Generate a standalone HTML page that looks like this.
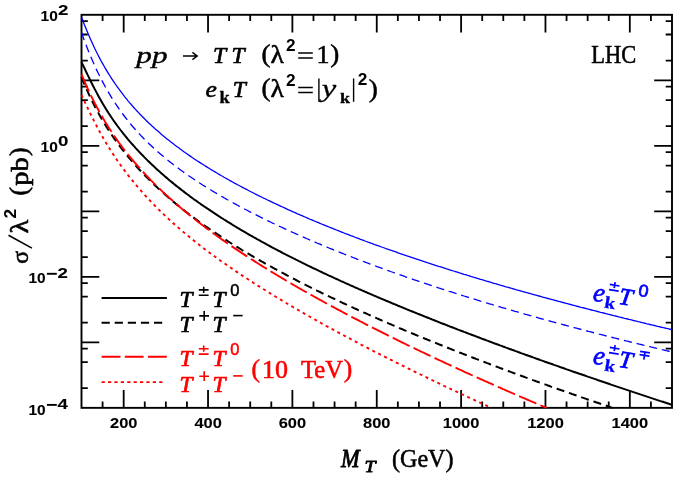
<!DOCTYPE html>
<html><head><meta charset="utf-8"><title>plot</title>
<style>html,body{margin:0;padding:0;background:#fff}body{width:677px;height:478px;overflow:hidden;font-family:"Liberation Serif",serif}</style></head>
<body>
<svg width="677" height="478" viewBox="0 0 677 478" style="display:block;will-change:transform" font-family="'Liberation Serif', serif">
<rect width="677" height="478" fill="#fff"/>
<rect x="81.50" y="14.80" width="590.50" height="393.05" fill="none" stroke="#000" stroke-width="1.9"/>
<path d="M102.59 407.85 V401.55 M102.59 14.80 V21.10 M123.68 407.85 V390.05 M123.68 14.80 V32.60 M144.77 407.85 V401.55 M144.77 14.80 V21.10 M165.86 407.85 V401.55 M165.86 14.80 V21.10 M186.95 407.85 V401.55 M186.95 14.80 V21.10 M208.04 407.85 V390.05 M208.04 14.80 V32.60 M229.12 407.85 V401.55 M229.12 14.80 V21.10 M250.21 407.85 V401.55 M250.21 14.80 V21.10 M271.30 407.85 V401.55 M271.30 14.80 V21.10 M292.39 407.85 V390.05 M292.39 14.80 V32.60 M313.48 407.85 V401.55 M313.48 14.80 V21.10 M334.57 407.85 V401.55 M334.57 14.80 V21.10 M355.66 407.85 V401.55 M355.66 14.80 V21.10 M376.75 407.85 V390.05 M376.75 14.80 V32.60 M397.84 407.85 V401.55 M397.84 14.80 V21.10 M418.93 407.85 V401.55 M418.93 14.80 V21.10 M440.02 407.85 V401.55 M440.02 14.80 V21.10 M461.11 407.85 V390.05 M461.11 14.80 V32.60 M482.20 407.85 V401.55 M482.20 14.80 V21.10 M503.29 407.85 V401.55 M503.29 14.80 V21.10 M524.38 407.85 V401.55 M524.38 14.80 V21.10 M545.46 407.85 V390.05 M545.46 14.80 V32.60 M566.55 407.85 V401.55 M566.55 14.80 V21.10 M587.64 407.85 V401.55 M587.64 14.80 V21.10 M608.73 407.85 V401.55 M608.73 14.80 V21.10 M629.82 407.85 V390.05 M629.82 14.80 V32.60 M650.91 407.85 V401.55 M650.91 14.80 V21.10 M81.50 21.15 H87.80 M672.00 21.15 H665.70 M81.50 34.52 H87.80 M672.00 34.52 H665.70 M81.50 60.59 H87.80 M672.00 60.59 H665.70 M81.50 80.31 H99.30 M672.00 80.31 H654.20 M81.50 86.66 H87.80 M672.00 86.66 H665.70 M81.50 100.03 H87.80 M672.00 100.03 H665.70 M81.50 126.10 H87.80 M672.00 126.10 H665.70 M81.50 145.82 H99.30 M672.00 145.82 H654.20 M81.50 152.17 H87.80 M672.00 152.17 H665.70 M81.50 165.54 H87.80 M672.00 165.54 H665.70 M81.50 191.61 H87.80 M672.00 191.61 H665.70 M81.50 211.33 H99.30 M672.00 211.33 H654.20 M81.50 217.67 H87.80 M672.00 217.67 H665.70 M81.50 231.04 H87.80 M672.00 231.04 H665.70 M81.50 257.11 H87.80 M672.00 257.11 H665.70 M81.50 276.83 H99.30 M672.00 276.83 H654.20 M81.50 283.18 H87.80 M672.00 283.18 H665.70 M81.50 296.55 H87.80 M672.00 296.55 H665.70 M81.50 322.62 H87.80 M672.00 322.62 H665.70 M81.50 342.34 H99.30 M672.00 342.34 H654.20 M81.50 348.69 H87.80 M672.00 348.69 H665.70 M81.50 362.06 H87.80 M672.00 362.06 H665.70 M81.50 388.13 H87.80 M672.00 388.13 H665.70" fill="none" stroke="#000" stroke-width="1.8"/>
<g fill="none" stroke-linejoin="round">
<path d="M81.5 16.9 L83.0 20.9 L84.5 24.9 L86.0 28.6 L87.5 32.3 L89.0 35.8 L90.5 39.3 L92.0 42.6 L93.5 45.8 L95.0 49.0 L96.5 52.0 L98.0 55.0 L99.5 57.9 L101.0 60.7 L102.5 63.4 L104.0 66.0 L105.5 68.6 L107.0 71.1 L108.5 73.6 L110.0 76.0 L111.5 78.3 L113.0 80.6 L114.5 82.8 L116.0 85.0 L117.5 87.1 L119.0 89.2 L120.5 91.2 L122.0 93.2 L123.5 95.2 L125.0 97.1 L126.5 98.9 L128.0 100.8 L129.5 102.6 L131.0 104.3 L132.5 106.0 L134.0 107.7 L135.5 109.4 L137.0 111.0 L138.5 112.6 L140.0 114.2 L141.5 115.8 L143.0 117.3 L144.5 118.8 L146.0 120.3 L147.5 121.7 L149.0 123.2 L150.5 124.6 L152.0 126.0 L153.5 127.3 L155.0 128.7 L156.5 130.0 L158.0 131.3 L159.5 132.6 L161.0 133.9 L162.5 135.2 L164.0 136.4 L165.5 137.7 L167.0 138.9 L168.5 140.1 L170.0 141.3 L171.5 142.4 L173.0 143.6 L174.5 144.8 L176.0 145.9 L177.5 147.0 L179.0 148.1 L180.5 149.2 L182.0 150.3 L183.5 151.4 L185.0 152.5 L186.5 153.5 L188.0 154.6 L189.5 155.6 L191.0 156.6 L192.5 157.7 L194.0 158.7 L195.5 159.7 L197.0 160.7 L198.5 161.6 L200.0 162.6 L201.5 163.6 L203.0 164.5 L204.5 165.5 L206.0 166.4 L207.5 167.4 L209.0 168.3 L210.5 169.2 L212.0 170.1 L213.5 171.0 L215.0 171.9 L216.5 172.8 L218.0 173.7 L219.5 174.6 L221.0 175.5 L222.5 176.3 L224.0 177.2 L225.5 178.0 L227.0 178.9 L228.5 179.7 L230.0 180.6 L231.5 181.4 L233.0 182.2 L234.5 183.1 L236.0 183.9 L237.5 184.7 L239.0 185.5 L240.5 186.3 L242.0 187.1 L243.5 187.9 L245.0 188.7 L246.5 189.4 L248.0 190.2 L249.5 191.0 L251.0 191.8 L252.5 192.5 L254.0 193.3 L255.5 194.1 L257.0 194.8 L258.5 195.6 L260.0 196.3 L261.5 197.0 L263.0 197.8 L264.5 198.5 L266.0 199.2 L267.5 200.0 L269.0 200.7 L270.5 201.4 L272.0 202.1 L273.5 202.8 L275.0 203.5 L276.5 204.2 L278.0 204.9 L279.5 205.6 L281.0 206.3 L282.5 207.0 L284.0 207.7 L285.5 208.4 L287.0 209.1 L288.5 209.8 L290.0 210.4 L291.5 211.1 L293.0 211.8 L294.5 212.4 L296.0 213.1 L297.5 213.8 L299.0 214.4 L300.5 215.1 L302.0 215.7 L303.5 216.4 L305.0 217.0 L306.5 217.7 L308.0 218.3 L309.5 219.0 L311.0 219.6 L312.5 220.2 L314.0 220.9 L315.5 221.5 L317.0 222.1 L318.5 222.7 L320.0 223.4 L321.5 224.0 L323.0 224.6 L324.5 225.2 L326.0 225.8 L327.5 226.4 L329.0 227.0 L330.5 227.6 L332.0 228.2 L333.5 228.8 L335.0 229.4 L336.5 230.0 L338.0 230.6 L339.5 231.2 L341.0 231.8 L342.5 232.4 L344.0 233.0 L345.5 233.6 L347.0 234.1 L348.5 234.7 L350.0 235.3 L351.5 235.9 L353.0 236.4 L354.5 237.0 L356.0 237.6 L357.5 238.1 L359.0 238.7 L360.5 239.3 L362.0 239.8 L363.5 240.4 L365.0 241.0 L366.5 241.5 L368.0 242.1 L369.5 242.6 L371.0 243.2 L372.5 243.7 L374.0 244.3 L375.5 244.8 L377.0 245.3 L378.5 245.9 L380.0 246.4 L381.5 247.0 L383.0 247.5 L384.5 248.0 L386.0 248.6 L387.5 249.1 L389.0 249.6 L390.5 250.2 L392.0 250.7 L393.5 251.2 L395.0 251.7 L396.5 252.2 L398.0 252.8 L399.5 253.3 L401.0 253.8 L402.5 254.3 L404.0 254.8 L405.5 255.3 L407.0 255.9 L408.5 256.4 L410.0 256.9 L411.5 257.4 L413.0 257.9 L414.5 258.4 L416.0 258.9 L417.5 259.4 L419.0 259.9 L420.5 260.4 L422.0 260.9 L423.5 261.4 L425.0 261.9 L426.5 262.4 L428.0 262.9 L429.5 263.3 L431.0 263.8 L432.5 264.3 L434.0 264.8 L435.5 265.3 L437.0 265.8 L438.5 266.3 L440.0 266.7 L441.5 267.2 L443.0 267.7 L444.5 268.2 L446.0 268.7 L447.5 269.1 L449.0 269.6 L450.5 270.1 L452.0 270.5 L453.5 271.0 L455.0 271.5 L456.5 271.9 L458.0 272.4 L459.5 272.9 L461.0 273.3 L462.5 273.8 L464.0 274.3 L465.5 274.7 L467.0 275.2 L468.5 275.6 L470.0 276.1 L471.5 276.6 L473.0 277.0 L474.5 277.5 L476.0 277.9 L477.5 278.4 L479.0 278.8 L480.5 279.3 L482.0 279.7 L483.5 280.2 L485.0 280.6 L486.5 281.1 L488.0 281.5 L489.5 281.9 L491.0 282.4 L492.5 282.8 L494.0 283.3 L495.5 283.7 L497.0 284.1 L498.5 284.6 L500.0 285.0 L501.5 285.5 L503.0 285.9 L504.5 286.3 L506.0 286.8 L507.5 287.2 L509.0 287.6 L510.5 288.0 L512.0 288.5 L513.5 288.9 L515.0 289.3 L516.5 289.8 L518.0 290.2 L519.5 290.6 L521.0 291.0 L522.5 291.5 L524.0 291.9 L525.5 292.3 L527.0 292.7 L528.5 293.1 L530.0 293.5 L531.5 294.0 L533.0 294.4 L534.5 294.8 L536.0 295.2 L537.5 295.6 L539.0 296.0 L540.5 296.4 L542.0 296.9 L543.5 297.3 L545.0 297.7 L546.5 298.1 L548.0 298.5 L549.5 298.9 L551.0 299.3 L552.5 299.7 L554.0 300.1 L555.5 300.5 L557.0 300.9 L558.5 301.3 L560.0 301.7 L561.5 302.1 L563.0 302.5 L564.5 302.9 L566.0 303.3 L567.5 303.7 L569.0 304.1 L570.5 304.5 L572.0 304.9 L573.5 305.3 L575.0 305.7 L576.5 306.1 L578.0 306.5 L579.5 306.9 L581.0 307.3 L582.5 307.6 L584.0 308.0 L585.5 308.4 L587.0 308.8 L588.5 309.2 L590.0 309.6 L591.5 310.0 L593.0 310.4 L594.5 310.7 L596.0 311.1 L597.5 311.5 L599.0 311.9 L600.5 312.3 L602.0 312.6 L603.5 313.0 L605.0 313.4 L606.5 313.8 L608.0 314.2 L609.5 314.5 L611.0 314.9 L612.5 315.3 L614.0 315.7 L615.5 316.0 L617.0 316.4 L618.5 316.8 L620.0 317.2 L621.5 317.5 L623.0 317.9 L624.5 318.3 L626.0 318.6 L627.5 319.0 L629.0 319.4 L630.5 319.7 L632.0 320.1 L633.5 320.5 L635.0 320.8 L636.5 321.2 L638.0 321.6 L639.5 321.9 L641.0 322.3 L642.5 322.7 L644.0 323.0 L645.5 323.4 L647.0 323.8 L648.5 324.1 L650.0 324.5 L651.5 324.8 L653.0 325.2 L654.5 325.5 L656.0 325.9 L657.5 326.3 L659.0 326.6 L660.5 327.0 L662.0 327.3 L663.5 327.7 L665.0 328.0 L666.5 328.4 L668.0 328.7 L669.5 329.1 L671.0 329.5 L672.0 329.7" stroke="#0000ff" stroke-width="1.3"/>
<path d="M81.5 32.5 L83.0 36.8 L84.5 40.9 L86.0 44.8 L87.5 48.7 L89.0 52.4 L90.5 56.1 L92.0 59.6 L93.5 63.0 L95.0 66.4 L96.5 69.6 L98.0 72.7 L99.5 75.8 L101.0 78.7 L102.5 81.6 L104.0 84.4 L105.5 87.2 L107.0 89.8 L108.5 92.4 L110.0 94.9 L111.5 97.4 L113.0 99.8 L114.5 102.1 L116.0 104.4 L117.5 106.6 L119.0 108.8 L120.5 110.9 L122.0 113.0 L123.5 115.0 L125.0 117.0 L126.5 118.9 L128.0 120.8 L129.5 122.7 L131.0 124.5 L132.5 126.3 L134.0 128.0 L135.5 129.7 L137.0 131.4 L138.5 133.0 L140.0 134.6 L141.5 136.2 L143.0 137.7 L144.5 139.3 L146.0 140.8 L147.5 142.2 L149.0 143.7 L150.5 145.1 L152.0 146.5 L153.5 147.9 L155.0 149.3 L156.5 150.6 L158.0 151.9 L159.5 153.2 L161.0 154.5 L162.5 155.8 L164.0 157.1 L165.5 158.3 L167.0 159.5 L168.5 160.7 L170.0 161.9 L171.5 163.1 L173.0 164.3 L174.5 165.4 L176.0 166.5 L177.5 167.7 L179.0 168.8 L180.5 169.9 L182.0 171.0 L183.5 172.1 L185.0 173.1 L186.5 174.2 L188.0 175.2 L189.5 176.3 L191.0 177.3 L192.5 178.3 L194.0 179.3 L195.5 180.3 L197.0 181.3 L198.5 182.3 L200.0 183.2 L201.5 184.2 L203.0 185.2 L204.5 186.1 L206.0 187.0 L207.5 188.0 L209.0 188.9 L210.5 189.8 L212.0 190.7 L213.5 191.6 L215.0 192.5 L216.5 193.4 L218.0 194.3 L219.5 195.2 L221.0 196.0 L222.5 196.9 L224.0 197.8 L225.5 198.6 L227.0 199.5 L228.5 200.3 L230.0 201.1 L231.5 202.0 L233.0 202.8 L234.5 203.6 L236.0 204.4 L237.5 205.3 L239.0 206.1 L240.5 206.9 L242.0 207.7 L243.5 208.4 L245.0 209.2 L246.5 210.0 L248.0 210.8 L249.5 211.6 L251.0 212.3 L252.5 213.1 L254.0 213.9 L255.5 214.6 L257.0 215.4 L258.5 216.1 L260.0 216.9 L261.5 217.6 L263.0 218.4 L264.5 219.1 L266.0 219.8 L267.5 220.6 L269.0 221.3 L270.5 222.0 L272.0 222.8 L273.5 223.5 L275.0 224.2 L276.5 224.9 L278.0 225.6 L279.5 226.3 L281.0 227.0 L282.5 227.7 L284.0 228.4 L285.5 229.1 L287.0 229.8 L288.5 230.5 L290.0 231.1 L291.5 231.8 L293.0 232.5 L294.5 233.2 L296.0 233.8 L297.5 234.5 L299.0 235.2 L300.5 235.8 L302.0 236.5 L303.5 237.2 L305.0 237.8 L306.5 238.5 L308.0 239.1 L309.5 239.8 L311.0 240.4 L312.5 241.1 L314.0 241.7 L315.5 242.3 L317.0 243.0 L318.5 243.6 L320.0 244.2 L321.5 244.9 L323.0 245.5 L324.5 246.1 L326.0 246.7 L327.5 247.3 L329.0 248.0 L330.5 248.6 L332.0 249.2 L333.5 249.8 L335.0 250.4 L336.5 251.0 L338.0 251.6 L339.5 252.2 L341.0 252.8 L342.5 253.4 L344.0 254.0 L345.5 254.6 L347.0 255.2 L348.5 255.8 L350.0 256.4 L351.5 256.9 L353.0 257.5 L354.5 258.1 L356.0 258.7 L357.5 259.3 L359.0 259.8 L360.5 260.4 L362.0 261.0 L363.5 261.5 L365.0 262.1 L366.5 262.7 L368.0 263.2 L369.5 263.8 L371.0 264.4 L372.5 264.9 L374.0 265.5 L375.5 266.0 L377.0 266.6 L378.5 267.1 L380.0 267.7 L381.5 268.2 L383.0 268.8 L384.5 269.3 L386.0 269.9 L387.5 270.4 L389.0 270.9 L390.5 271.5 L392.0 272.0 L393.5 272.5 L395.0 273.1 L396.5 273.6 L398.0 274.1 L399.5 274.7 L401.0 275.2 L402.5 275.7 L404.0 276.2 L405.5 276.8 L407.0 277.3 L408.5 277.8 L410.0 278.3 L411.5 278.8 L413.0 279.3 L414.5 279.9 L416.0 280.4 L417.5 280.9 L419.0 281.4 L420.5 281.9 L422.0 282.4 L423.5 282.9 L425.0 283.4 L426.5 283.9 L428.0 284.4 L429.5 284.9 L431.0 285.4 L432.5 285.9 L434.0 286.4 L435.5 286.9 L437.0 287.4 L438.5 287.9 L440.0 288.3 L441.5 288.8 L443.0 289.3 L444.5 289.8 L446.0 290.3 L447.5 290.8 L449.0 291.3 L450.5 291.7 L452.0 292.2 L453.5 292.7 L455.0 293.2 L456.5 293.6 L458.0 294.1 L459.5 294.6 L461.0 295.1 L462.5 295.5 L464.0 296.0 L465.5 296.5 L467.0 296.9 L468.5 297.4 L470.0 297.9 L471.5 298.3 L473.0 298.8 L474.5 299.2 L476.0 299.7 L477.5 300.2 L479.0 300.6 L480.5 301.1 L482.0 301.5 L483.5 302.0 L485.0 302.4 L486.5 302.9 L488.0 303.3 L489.5 303.8 L491.0 304.2 L492.5 304.7 L494.0 305.1 L495.5 305.6 L497.0 306.0 L498.5 306.5 L500.0 306.9 L501.5 307.4 L503.0 307.8 L504.5 308.2 L506.0 308.7 L507.5 309.1 L509.0 309.5 L510.5 310.0 L512.0 310.4 L513.5 310.8 L515.0 311.3 L516.5 311.7 L518.0 312.1 L519.5 312.6 L521.0 313.0 L522.5 313.4 L524.0 313.8 L525.5 314.3 L527.0 314.7 L528.5 315.1 L530.0 315.5 L531.5 316.0 L533.0 316.4 L534.5 316.8 L536.0 317.2 L537.5 317.6 L539.0 318.1 L540.5 318.5 L542.0 318.9 L543.5 319.3 L545.0 319.7 L546.5 320.1 L548.0 320.5 L549.5 321.0 L551.0 321.4 L552.5 321.8 L554.0 322.2 L555.5 322.6 L557.0 323.0 L558.5 323.4 L560.0 323.8 L561.5 324.2 L563.0 324.6 L564.5 325.0 L566.0 325.4 L567.5 325.8 L569.0 326.2 L570.5 326.6 L572.0 327.0 L573.5 327.4 L575.0 327.8 L576.5 328.2 L578.0 328.6 L579.5 329.0 L581.0 329.4 L582.5 329.8 L584.0 330.2 L585.5 330.6 L587.0 331.0 L588.5 331.4 L590.0 331.7 L591.5 332.1 L593.0 332.5 L594.5 332.9 L596.0 333.3 L597.5 333.7 L599.0 334.1 L600.5 334.4 L602.0 334.8 L603.5 335.2 L605.0 335.6 L606.5 336.0 L608.0 336.4 L609.5 336.7 L611.0 337.1 L612.5 337.5 L614.0 337.9 L615.5 338.2 L617.0 338.6 L618.5 339.0 L620.0 339.4 L621.5 339.7 L623.0 340.1 L624.5 340.5 L626.0 340.9 L627.5 341.2 L629.0 341.6 L630.5 342.0 L632.0 342.3 L633.5 342.7 L635.0 343.1 L636.5 343.4 L638.0 343.8 L639.5 344.2 L641.0 344.5 L642.5 344.9 L644.0 345.3 L645.5 345.6 L647.0 346.0 L648.5 346.4 L650.0 346.7 L651.5 347.1 L653.0 347.4 L654.5 347.8 L656.0 348.2 L657.5 348.5 L659.0 348.9 L660.5 349.2 L662.0 349.6 L663.5 349.9 L665.0 350.3 L666.5 350.7 L668.0 351.0 L669.5 351.4 L671.0 351.7 L672.0 351.9" stroke="#0000ff" stroke-width="1.3" stroke-dasharray="8.1 4.9"/>
<path d="M81.5 62.1 L83.0 65.2 L84.5 68.3 L86.0 71.5 L87.5 74.6 L89.0 77.6 L90.5 80.7 L92.0 83.7 L93.5 86.7 L95.0 89.6 L96.5 92.4 L98.0 95.2 L99.5 97.9 L101.0 100.6 L102.5 103.2 L104.0 105.7 L105.5 108.2 L107.0 110.6 L108.5 113.0 L110.0 115.3 L111.5 117.5 L113.0 119.7 L114.5 121.8 L116.0 123.9 L117.5 126.0 L119.0 128.0 L120.5 130.0 L122.0 131.9 L123.5 133.8 L125.0 135.7 L126.5 137.5 L128.0 139.3 L129.5 141.1 L131.0 142.8 L132.5 144.5 L134.0 146.2 L135.5 147.9 L137.0 149.5 L138.5 151.1 L140.0 152.7 L141.5 154.3 L143.0 155.8 L144.5 157.4 L146.0 158.9 L147.5 160.4 L149.0 161.8 L150.5 163.3 L152.0 164.7 L153.5 166.1 L155.0 167.5 L156.5 168.9 L158.0 170.3 L159.5 171.6 L161.0 172.9 L162.5 174.3 L164.0 175.6 L165.5 176.9 L167.0 178.1 L168.5 179.4 L170.0 180.7 L171.5 181.9 L173.0 183.1 L174.5 184.4 L176.0 185.6 L177.5 186.8 L179.0 187.9 L180.5 189.1 L182.0 190.3 L183.5 191.4 L185.0 192.6 L186.5 193.7 L188.0 194.8 L189.5 196.0 L191.0 197.1 L192.5 198.2 L194.0 199.3 L195.5 200.3 L197.0 201.4 L198.5 202.5 L200.0 203.5 L201.5 204.6 L203.0 205.6 L204.5 206.7 L206.0 207.7 L207.5 208.7 L209.0 209.7 L210.5 210.7 L212.0 211.7 L213.5 212.7 L215.0 213.7 L216.5 214.7 L218.0 215.7 L219.5 216.6 L221.0 217.6 L222.5 218.5 L224.0 219.5 L225.5 220.4 L227.0 221.4 L228.5 222.3 L230.0 223.2 L231.5 224.2 L233.0 225.1 L234.5 226.0 L236.0 226.9 L237.5 227.8 L239.0 228.7 L240.5 229.6 L242.0 230.5 L243.5 231.3 L245.0 232.2 L246.5 233.1 L248.0 234.0 L249.5 234.8 L251.0 235.7 L252.5 236.5 L254.0 237.4 L255.5 238.2 L257.0 239.1 L258.5 239.9 L260.0 240.7 L261.5 241.6 L263.0 242.4 L264.5 243.2 L266.0 244.0 L267.5 244.9 L269.0 245.7 L270.5 246.5 L272.0 247.3 L273.5 248.1 L275.0 248.9 L276.5 249.7 L278.0 250.5 L279.5 251.2 L281.0 252.0 L282.5 252.8 L284.0 253.6 L285.5 254.4 L287.0 255.1 L288.5 255.9 L290.0 256.7 L291.5 257.4 L293.0 258.2 L294.5 258.9 L296.0 259.7 L297.5 260.4 L299.0 261.2 L300.5 261.9 L302.0 262.7 L303.5 263.4 L305.0 264.1 L306.5 264.9 L308.0 265.6 L309.5 266.3 L311.0 267.0 L312.5 267.8 L314.0 268.5 L315.5 269.2 L317.0 269.9 L318.5 270.6 L320.0 271.3 L321.5 272.0 L323.0 272.8 L324.5 273.5 L326.0 274.2 L327.5 274.9 L329.0 275.6 L330.5 276.2 L332.0 276.9 L333.5 277.6 L335.0 278.3 L336.5 279.0 L338.0 279.7 L339.5 280.4 L341.0 281.1 L342.5 281.7 L344.0 282.4 L345.5 283.1 L347.0 283.8 L348.5 284.4 L350.0 285.1 L351.5 285.8 L353.0 286.4 L354.5 287.1 L356.0 287.8 L357.5 288.4 L359.0 289.1 L360.5 289.7 L362.0 290.4 L363.5 291.0 L365.0 291.7 L366.5 292.3 L368.0 293.0 L369.5 293.6 L371.0 294.3 L372.5 294.9 L374.0 295.6 L375.5 296.2 L377.0 296.9 L378.5 297.5 L380.0 298.1 L381.5 298.8 L383.0 299.4 L384.5 300.0 L386.0 300.7 L387.5 301.3 L389.0 301.9 L390.5 302.5 L392.0 303.2 L393.5 303.8 L395.0 304.4 L396.5 305.0 L398.0 305.7 L399.5 306.3 L401.0 306.9 L402.5 307.5 L404.0 308.1 L405.5 308.7 L407.0 309.4 L408.5 310.0 L410.0 310.6 L411.5 311.2 L413.0 311.8 L414.5 312.4 L416.0 313.0 L417.5 313.6 L419.0 314.2 L420.5 314.8 L422.0 315.4 L423.5 316.0 L425.0 316.6 L426.5 317.2 L428.0 317.8 L429.5 318.4 L431.0 319.0 L432.5 319.6 L434.0 320.2 L435.5 320.8 L437.0 321.4 L438.5 322.0 L440.0 322.6 L441.5 323.2 L443.0 323.7 L444.5 324.3 L446.0 324.9 L447.5 325.5 L449.0 326.1 L450.5 326.7 L452.0 327.2 L453.5 327.8 L455.0 328.4 L456.5 329.0 L458.0 329.6 L459.5 330.1 L461.0 330.7 L462.5 331.3 L464.0 331.9 L465.5 332.4 L467.0 333.0 L468.5 333.6 L470.0 334.1 L471.5 334.7 L473.0 335.3 L474.5 335.8 L476.0 336.4 L477.5 337.0 L479.0 337.5 L480.5 338.1 L482.0 338.7 L483.5 339.2 L485.0 339.8 L486.5 340.4 L488.0 340.9 L489.5 341.5 L491.0 342.0 L492.5 342.6 L494.0 343.2 L495.5 343.7 L497.0 344.3 L498.5 344.8 L500.0 345.4 L501.5 345.9 L503.0 346.5 L504.5 347.0 L506.0 347.6 L507.5 348.1 L509.0 348.7 L510.5 349.2 L512.0 349.8 L513.5 350.3 L515.0 350.9 L516.5 351.4 L518.0 352.0 L519.5 352.5 L521.0 353.1 L522.5 353.6 L524.0 354.1 L525.5 354.7 L527.0 355.2 L528.5 355.8 L530.0 356.3 L531.5 356.8 L533.0 357.4 L534.5 357.9 L536.0 358.5 L537.5 359.0 L539.0 359.5 L540.5 360.1 L542.0 360.6 L543.5 361.1 L545.0 361.7 L546.5 362.2 L548.0 362.7 L549.5 363.3 L551.0 363.8 L552.5 364.3 L554.0 364.9 L555.5 365.4 L557.0 365.9 L558.5 366.4 L560.0 367.0 L561.5 367.5 L563.0 368.0 L564.5 368.5 L566.0 369.1 L567.5 369.6 L569.0 370.1 L570.5 370.6 L572.0 371.2 L573.5 371.7 L575.0 372.2 L576.5 372.7 L578.0 373.2 L579.5 373.8 L581.0 374.3 L582.5 374.8 L584.0 375.3 L585.5 375.8 L587.0 376.4 L588.5 376.9 L590.0 377.4 L591.5 377.9 L593.0 378.4 L594.5 378.9 L596.0 379.4 L597.5 380.0 L599.0 380.5 L600.5 381.0 L602.0 381.5 L603.5 382.0 L605.0 382.5 L606.5 383.0 L608.0 383.5 L609.5 384.0 L611.0 384.6 L612.5 385.1 L614.0 385.6 L615.5 386.1 L617.0 386.6 L618.5 387.1 L620.0 387.6 L621.5 388.1 L623.0 388.6 L624.5 389.1 L626.0 389.6 L627.5 390.1 L629.0 390.6 L630.5 391.1 L632.0 391.6 L633.5 392.1 L635.0 392.6 L636.5 393.1 L638.0 393.6 L639.5 394.1 L641.0 394.6 L642.5 395.1 L644.0 395.6 L645.5 396.1 L647.0 396.6 L648.5 397.1 L650.0 397.6 L651.5 398.1 L653.0 398.6 L654.5 399.1 L656.0 399.6 L657.5 400.1 L659.0 400.6 L660.5 401.1 L662.0 401.5 L663.5 402.0 L665.0 402.5 L666.5 403.0 L668.0 403.5 L669.5 404.0 L671.0 404.5 L672.0 404.8" stroke="#000" stroke-width="2.0"/>
<path d="M81.5 77.1 L83.0 80.8 L84.5 84.4 L86.0 87.9 L87.5 91.2 L89.0 94.5 L90.5 97.7 L92.0 100.8 L93.5 103.8 L95.0 106.7 L96.5 109.5 L98.0 112.3 L99.5 115.0 L101.0 117.7 L102.5 120.2 L104.0 122.7 L105.5 125.2 L107.0 127.6 L108.5 130.0 L110.0 132.3 L111.5 134.5 L113.0 136.7 L114.5 138.9 L116.0 141.0 L117.5 143.1 L119.0 145.1 L120.5 147.1 L122.0 149.1 L123.5 151.0 L125.0 152.9 L126.5 154.8 L128.0 156.6 L129.5 158.4 L131.0 160.2 L132.5 161.9 L134.0 163.7 L135.5 165.4 L137.0 167.0 L138.5 168.7 L140.0 170.3 L141.5 171.9 L143.0 173.5 L144.5 175.0 L146.0 176.6 L147.5 178.1 L149.0 179.6 L150.5 181.1 L152.0 182.5 L153.5 184.0 L155.0 185.4 L156.5 186.8 L158.0 188.2 L159.5 189.6 L161.0 190.9 L162.5 192.3 L164.0 193.6 L165.5 195.0 L167.0 196.3 L168.5 197.6 L170.0 198.8 L171.5 200.1 L173.0 201.4 L174.5 202.6 L176.0 203.9 L177.5 205.1 L179.0 206.3 L180.5 207.5 L182.0 208.7 L183.5 209.9 L185.0 211.1 L186.5 212.2 L188.0 213.4 L189.5 214.5 L191.0 215.7 L192.5 216.8 L194.0 217.9 L195.5 219.0 L197.0 220.1 L198.5 221.2 L200.0 222.3 L201.5 223.4 L203.0 224.4 L204.5 225.5 L206.0 226.6 L207.5 227.6 L209.0 228.6 L210.5 229.7 L212.0 230.7 L213.5 231.7 L215.0 232.7 L216.5 233.7 L218.0 234.7 L219.5 235.7 L221.0 236.7 L222.5 237.7 L224.0 238.7 L225.5 239.6 L227.0 240.6 L228.5 241.6 L230.0 242.5 L231.5 243.5 L233.0 244.4 L234.5 245.3 L236.0 246.3 L237.5 247.2 L239.0 248.1 L240.5 249.0 L242.0 250.0 L243.5 250.9 L245.0 251.8 L246.5 252.7 L248.0 253.5 L249.5 254.4 L251.0 255.3 L252.5 256.2 L254.0 257.1 L255.5 257.9 L257.0 258.8 L258.5 259.7 L260.0 260.5 L261.5 261.4 L263.0 262.2 L264.5 263.1 L266.0 263.9 L267.5 264.8 L269.0 265.6 L270.5 266.4 L272.0 267.2 L273.5 268.1 L275.0 268.9 L276.5 269.7 L278.0 270.5 L279.5 271.3 L281.0 272.1 L282.5 272.9 L284.0 273.7 L285.5 274.5 L287.0 275.3 L288.5 276.1 L290.0 276.9 L291.5 277.7 L293.0 278.5 L294.5 279.2 L296.0 280.0 L297.5 280.8 L299.0 281.6 L300.5 282.3 L302.0 283.1 L303.5 283.9 L305.0 284.6 L306.5 285.4 L308.0 286.1 L309.5 286.9 L311.0 287.6 L312.5 288.4 L314.0 289.1 L315.5 289.8 L317.0 290.6 L318.5 291.3 L320.0 292.0 L321.5 292.8 L323.0 293.5 L324.5 294.2 L326.0 295.0 L327.5 295.7 L329.0 296.4 L330.5 297.1 L332.0 297.8 L333.5 298.5 L335.0 299.2 L336.5 300.0 L338.0 300.7 L339.5 301.4 L341.0 302.1 L342.5 302.8 L344.0 303.5 L345.5 304.2 L347.0 304.9 L348.5 305.6 L350.0 306.2 L351.5 306.9 L353.0 307.6 L354.5 308.3 L356.0 309.0 L357.5 309.7 L359.0 310.3 L360.5 311.0 L362.0 311.7 L363.5 312.4 L365.0 313.0 L366.5 313.7 L368.0 314.4 L369.5 315.0 L371.0 315.7 L372.5 316.4 L374.0 317.0 L375.5 317.7 L377.0 318.4 L378.5 319.0 L380.0 319.7 L381.5 320.3 L383.0 321.0 L384.5 321.6 L386.0 322.3 L387.5 322.9 L389.0 323.6 L390.5 324.2 L392.0 324.9 L393.5 325.5 L395.0 326.1 L396.5 326.8 L398.0 327.4 L399.5 328.1 L401.0 328.7 L402.5 329.3 L404.0 330.0 L405.5 330.6 L407.0 331.2 L408.5 331.8 L410.0 332.5 L411.5 333.1 L413.0 333.7 L414.5 334.3 L416.0 335.0 L417.5 335.6 L419.0 336.2 L420.5 336.8 L422.0 337.4 L423.5 338.0 L425.0 338.7 L426.5 339.3 L428.0 339.9 L429.5 340.5 L431.0 341.1 L432.5 341.7 L434.0 342.3 L435.5 342.9 L437.0 343.5 L438.5 344.1 L440.0 344.7 L441.5 345.3 L443.0 345.9 L444.5 346.5 L446.0 347.1 L447.5 347.7 L449.0 348.3 L450.5 348.9 L452.0 349.5 L453.5 350.1 L455.0 350.7 L456.5 351.3 L458.0 351.9 L459.5 352.5 L461.0 353.0 L462.5 353.6 L464.0 354.2 L465.5 354.8 L467.0 355.4 L468.5 356.0 L470.0 356.5 L471.5 357.1 L473.0 357.7 L474.5 358.3 L476.0 358.9 L477.5 359.4 L479.0 360.0 L480.5 360.6 L482.0 361.2 L483.5 361.7 L485.0 362.3 L486.5 362.9 L488.0 363.4 L489.5 364.0 L491.0 364.6 L492.5 365.1 L494.0 365.7 L495.5 366.3 L497.0 366.8 L498.5 367.4 L500.0 368.0 L501.5 368.5 L503.0 369.1 L504.5 369.6 L506.0 370.2 L507.5 370.7 L509.0 371.3 L510.5 371.9 L512.0 372.4 L513.5 373.0 L515.0 373.5 L516.5 374.1 L518.0 374.6 L519.5 375.2 L521.0 375.7 L522.5 376.3 L524.0 376.8 L525.5 377.4 L527.0 377.9 L528.5 378.5 L530.0 379.0 L531.5 379.5 L533.0 380.1 L534.5 380.6 L536.0 381.2 L537.5 381.7 L539.0 382.3 L540.5 382.8 L542.0 383.3 L543.5 383.9 L545.0 384.4 L546.5 384.9 L548.0 385.5 L549.5 386.0 L551.0 386.6 L552.5 387.1 L554.0 387.6 L555.5 388.2 L557.0 388.7 L558.5 389.2 L560.0 389.7 L561.5 390.3 L563.0 390.8 L564.5 391.3 L566.0 391.9 L567.5 392.4 L569.0 392.9 L570.5 393.4 L572.0 394.0 L573.5 394.5 L575.0 395.0 L576.5 395.5 L578.0 396.0 L579.5 396.6 L581.0 397.1 L582.5 397.6 L584.0 398.1 L585.5 398.6 L587.0 399.2 L588.5 399.7 L590.0 400.2 L591.5 400.7 L593.0 401.2 L594.5 401.7 L596.0 402.3 L597.5 402.8 L599.0 403.3 L600.5 403.8 L602.0 404.3 L603.5 404.8 L605.0 405.3 L606.5 405.8 L608.0 406.3 L609.5 406.8 L611.0 407.4 L612.5 407.9" stroke="#000" stroke-width="2.0" stroke-dasharray="8.1 4.9"/>
<path d="M81.5 74.1 L83.0 77.8 L84.5 81.4 L86.0 84.8 L87.5 88.2 L89.0 91.5 L90.5 94.6 L92.0 97.7 L93.5 100.7 L95.0 103.7 L96.5 106.5 L98.0 109.3 L99.5 112.1 L101.0 114.7 L102.5 117.3 L104.0 119.9 L105.5 122.4 L107.0 124.8 L108.5 127.2 L110.0 129.5 L111.5 131.8 L113.0 134.1 L114.5 136.3 L116.0 138.5 L117.5 140.6 L119.0 142.7 L120.5 144.7 L122.0 146.7 L123.5 148.7 L125.0 150.7 L126.5 152.6 L128.0 154.5 L129.5 156.3 L131.0 158.1 L132.5 159.9 L134.0 161.7 L135.5 163.5 L137.0 165.2 L138.5 166.9 L140.0 168.6 L141.5 170.2 L143.0 171.9 L144.5 173.5 L146.0 175.1 L147.5 176.7 L149.0 178.2 L150.5 179.8 L152.0 181.3 L153.5 182.8 L155.0 184.3 L156.5 185.8 L158.0 187.3 L159.5 188.7 L161.0 190.1 L162.5 191.6 L164.0 193.0 L165.5 194.4 L167.0 195.7 L168.5 197.1 L170.0 198.5 L171.5 199.8 L173.0 201.1 L174.5 202.4 L176.0 203.8 L177.5 205.0 L179.0 206.3 L180.5 207.6 L182.0 208.9 L183.5 210.1 L185.0 211.4 L186.5 212.6 L188.0 213.8 L189.5 215.1 L191.0 216.3 L192.5 217.5 L194.0 218.7 L195.5 219.8 L197.0 221.0 L198.5 222.2 L200.0 223.3 L201.5 224.5 L203.0 225.6 L204.5 226.8 L206.0 227.9 L207.5 229.0 L209.0 230.1 L210.5 231.2 L212.0 232.3 L213.5 233.4 L215.0 234.5 L216.5 235.6 L218.0 236.7 L219.5 237.7 L221.0 238.8 L222.5 239.9 L224.0 240.9 L225.5 242.0 L227.0 243.0 L228.5 244.0 L230.0 245.1 L231.5 246.1 L233.0 247.1 L234.5 248.1 L236.0 249.1 L237.5 250.1 L239.0 251.1 L240.5 252.1 L242.0 253.1 L243.5 254.1 L245.0 255.1 L246.5 256.1 L248.0 257.1 L249.5 258.0 L251.0 259.0 L252.5 259.9 L254.0 260.9 L255.5 261.9 L257.0 262.8 L258.5 263.8 L260.0 264.7 L261.5 265.6 L263.0 266.6 L264.5 267.5 L266.0 268.4 L267.5 269.4 L269.0 270.3 L270.5 271.2 L272.0 272.1 L273.5 273.0 L275.0 273.9 L276.5 274.8 L278.0 275.7 L279.5 276.6 L281.0 277.5 L282.5 278.4 L284.0 279.3 L285.5 280.2 L287.0 281.1 L288.5 282.0 L290.0 282.8 L291.5 283.7 L293.0 284.6 L294.5 285.5 L296.0 286.3 L297.5 287.2 L299.0 288.1 L300.5 288.9 L302.0 289.8 L303.5 290.6 L305.0 291.5 L306.5 292.3 L308.0 293.2 L309.5 294.0 L311.0 294.9 L312.5 295.7 L314.0 296.5 L315.5 297.4 L317.0 298.2 L318.5 299.0 L320.0 299.9 L321.5 300.7 L323.0 301.5 L324.5 302.3 L326.0 303.2 L327.5 304.0 L329.0 304.8 L330.5 305.6 L332.0 306.4 L333.5 307.2 L335.0 308.0 L336.5 308.8 L338.0 309.6 L339.5 310.4 L341.0 311.2 L342.5 312.0 L344.0 312.8 L345.5 313.6 L347.0 314.4 L348.5 315.2 L350.0 316.0 L351.5 316.8 L353.0 317.6 L354.5 318.3 L356.0 319.1 L357.5 319.9 L359.0 320.7 L360.5 321.5 L362.0 322.2 L363.5 323.0 L365.0 323.8 L366.5 324.6 L368.0 325.3 L369.5 326.1 L371.0 326.9 L372.5 327.6 L374.0 328.4 L375.5 329.1 L377.0 329.9 L378.5 330.6 L380.0 331.4 L381.5 332.2 L383.0 332.9 L384.5 333.7 L386.0 334.4 L387.5 335.2 L389.0 335.9 L390.5 336.7 L392.0 337.4 L393.5 338.1 L395.0 338.9 L396.5 339.6 L398.0 340.4 L399.5 341.1 L401.0 341.8 L402.5 342.6 L404.0 343.3 L405.5 344.0 L407.0 344.8 L408.5 345.5 L410.0 346.2 L411.5 346.9 L413.0 347.7 L414.5 348.4 L416.0 349.1 L417.5 349.8 L419.0 350.5 L420.5 351.3 L422.0 352.0 L423.5 352.7 L425.0 353.4 L426.5 354.1 L428.0 354.8 L429.5 355.5 L431.0 356.3 L432.5 357.0 L434.0 357.7 L435.5 358.4 L437.0 359.1 L438.5 359.8 L440.0 360.5 L441.5 361.2 L443.0 361.9 L444.5 362.6 L446.0 363.3 L447.5 364.0 L449.0 364.7 L450.5 365.4 L452.0 366.1 L453.5 366.8 L455.0 367.5 L456.5 368.1 L458.0 368.8 L459.5 369.5 L461.0 370.2 L462.5 370.9 L464.0 371.6 L465.5 372.3 L467.0 373.0 L468.5 373.6 L470.0 374.3 L471.5 375.0 L473.0 375.7 L474.5 376.4 L476.0 377.0 L477.5 377.7 L479.0 378.4 L480.5 379.1 L482.0 379.7 L483.5 380.4 L485.0 381.1 L486.5 381.7 L488.0 382.4 L489.5 383.1 L491.0 383.7 L492.5 384.4 L494.0 385.1 L495.5 385.7 L497.0 386.4 L498.5 387.1 L500.0 387.7 L501.5 388.4 L503.0 389.1 L504.5 389.7 L506.0 390.4 L507.5 391.0 L509.0 391.7 L510.5 392.3 L512.0 393.0 L513.5 393.7 L515.0 394.3 L516.5 395.0 L518.0 395.6 L519.5 396.3 L521.0 396.9 L522.5 397.6 L524.0 398.2 L525.5 398.9 L527.0 399.5 L528.5 400.1 L530.0 400.8 L531.5 401.4 L533.0 402.1 L534.5 402.7 L536.0 403.4 L537.5 404.0 L539.0 404.6 L540.5 405.3 L542.0 405.9 L543.5 406.6 L545.0 407.2 L546.5 407.8 L546.6 407.9" stroke="#ff0000" stroke-width="1.9" stroke-dasharray="18.8 4.4"/>
<path d="M81.5 94.9 L83.0 98.2 L84.5 101.4 L86.0 104.6 L87.5 107.7 L89.0 110.8 L90.5 113.9 L92.0 116.9 L93.5 119.9 L95.0 122.8 L96.5 125.7 L98.0 128.6 L99.5 131.3 L101.0 134.1 L102.5 136.7 L104.0 139.4 L105.5 141.9 L107.0 144.4 L108.5 146.9 L110.0 149.3 L111.5 151.7 L113.0 154.0 L114.5 156.3 L116.0 158.5 L117.5 160.7 L119.0 162.9 L120.5 165.0 L122.0 167.1 L123.5 169.1 L125.0 171.1 L126.5 173.1 L128.0 175.1 L129.5 177.0 L131.0 178.9 L132.5 180.7 L134.0 182.6 L135.5 184.4 L137.0 186.1 L138.5 187.9 L140.0 189.6 L141.5 191.3 L143.0 193.0 L144.5 194.7 L146.0 196.3 L147.5 198.0 L149.0 199.6 L150.5 201.2 L152.0 202.7 L153.5 204.3 L155.0 205.8 L156.5 207.3 L158.0 208.8 L159.5 210.3 L161.0 211.8 L162.5 213.2 L164.0 214.6 L165.5 216.1 L167.0 217.5 L168.5 218.9 L170.0 220.2 L171.5 221.6 L173.0 223.0 L174.5 224.3 L176.0 225.6 L177.5 226.9 L179.0 228.3 L180.5 229.5 L182.0 230.8 L183.5 232.1 L185.0 233.4 L186.5 234.6 L188.0 235.8 L189.5 237.1 L191.0 238.3 L192.5 239.5 L194.0 240.7 L195.5 241.9 L197.0 243.1 L198.5 244.2 L200.0 245.4 L201.5 246.6 L203.0 247.7 L204.5 248.9 L206.0 250.0 L207.5 251.1 L209.0 252.2 L210.5 253.4 L212.0 254.5 L213.5 255.6 L215.0 256.7 L216.5 257.7 L218.0 258.8 L219.5 259.9 L221.0 261.0 L222.5 262.0 L224.0 263.1 L225.5 264.1 L227.0 265.2 L228.5 266.2 L230.0 267.3 L231.5 268.3 L233.0 269.3 L234.5 270.3 L236.0 271.4 L237.5 272.4 L239.0 273.4 L240.5 274.4 L242.0 275.4 L243.5 276.4 L245.0 277.4 L246.5 278.3 L248.0 279.3 L249.5 280.3 L251.0 281.3 L252.5 282.2 L254.0 283.2 L255.5 284.2 L257.0 285.1 L258.5 286.1 L260.0 287.0 L261.5 287.9 L263.0 288.9 L264.5 289.8 L266.0 290.8 L267.5 291.7 L269.0 292.6 L270.5 293.5 L272.0 294.5 L273.5 295.4 L275.0 296.3 L276.5 297.2 L278.0 298.1 L279.5 299.0 L281.0 299.9 L282.5 300.8 L284.0 301.7 L285.5 302.6 L287.0 303.5 L288.5 304.4 L290.0 305.3 L291.5 306.1 L293.0 307.0 L294.5 307.9 L296.0 308.8 L297.5 309.6 L299.0 310.5 L300.5 311.4 L302.0 312.2 L303.5 313.1 L305.0 314.0 L306.5 314.8 L308.0 315.7 L309.5 316.5 L311.0 317.4 L312.5 318.2 L314.0 319.1 L315.5 319.9 L317.0 320.8 L318.5 321.6 L320.0 322.4 L321.5 323.3 L323.0 324.1 L324.5 324.9 L326.0 325.8 L327.5 326.6 L329.0 327.4 L330.5 328.2 L332.0 329.0 L333.5 329.9 L335.0 330.7 L336.5 331.5 L338.0 332.3 L339.5 333.1 L341.0 333.9 L342.5 334.7 L344.0 335.5 L345.5 336.3 L347.0 337.1 L348.5 337.9 L350.0 338.7 L351.5 339.5 L353.0 340.3 L354.5 341.1 L356.0 341.9 L357.5 342.7 L359.0 343.5 L360.5 344.3 L362.0 345.1 L363.5 345.8 L365.0 346.6 L366.5 347.4 L368.0 348.2 L369.5 349.0 L371.0 349.7 L372.5 350.5 L374.0 351.3 L375.5 352.0 L377.0 352.8 L378.5 353.6 L380.0 354.4 L381.5 355.1 L383.0 355.9 L384.5 356.6 L386.0 357.4 L387.5 358.2 L389.0 358.9 L390.5 359.7 L392.0 360.4 L393.5 361.2 L395.0 361.9 L396.5 362.7 L398.0 363.4 L399.5 364.2 L401.0 364.9 L402.5 365.7 L404.0 366.4 L405.5 367.2 L407.0 367.9 L408.5 368.6 L410.0 369.4 L411.5 370.1 L413.0 370.9 L414.5 371.6 L416.0 372.3 L417.5 373.1 L419.0 373.8 L420.5 374.5 L422.0 375.2 L423.5 376.0 L425.0 376.7 L426.5 377.4 L428.0 378.2 L429.5 378.9 L431.0 379.6 L432.5 380.3 L434.0 381.0 L435.5 381.8 L437.0 382.5 L438.5 383.2 L440.0 383.9 L441.5 384.6 L443.0 385.3 L444.5 386.1 L446.0 386.8 L447.5 387.5 L449.0 388.2 L450.5 388.9 L452.0 389.6 L453.5 390.3 L455.0 391.0 L456.5 391.7 L458.0 392.4 L459.5 393.1 L461.0 393.8 L462.5 394.5 L464.0 395.2 L465.5 395.9 L467.0 396.6 L468.5 397.3 L470.0 398.0 L471.5 398.7 L473.0 399.4 L474.5 400.1 L476.0 400.8 L477.5 401.5 L479.0 402.2 L480.5 402.8 L482.0 403.5 L483.5 404.2 L485.0 404.9 L486.5 405.6 L488.0 406.3 L489.5 407.0 L491.0 407.6 L491.5 407.9" stroke="#ff0000" stroke-width="1.9" stroke-dasharray="3 3.6"/>
</g>
<g fill="none" stroke-width="1.9">
<path d="M101.6 298 H166.9" stroke="#000"/>
<path d="M101.6 322.7 H162.2" stroke="#000" stroke-dasharray="8.2 4.9"/>
<path d="M101.6 356.7 H166.9" stroke="#ff0000" stroke-dasharray="18.8 4.4"/>
<path d="M101.6 382.1 H165.6" stroke="#ff0000" stroke-dasharray="3.2 3.2"/>
</g>
<text x="110.0" y="428.2" font-size="14.6" textLength="27.4" lengthAdjust="spacingAndGlyphs" fill="#000" stroke="#000" stroke-width="0.10" stroke-linejoin="round" style="font-family:'Liberation Sans',sans-serif;font-weight:bold" >200</text>
<text x="194.4" y="428.2" font-size="14.6" textLength="27.4" lengthAdjust="spacingAndGlyphs" fill="#000" stroke="#000" stroke-width="0.10" stroke-linejoin="round" style="font-family:'Liberation Sans',sans-serif;font-weight:bold" >400</text>
<text x="278.7" y="428.2" font-size="14.6" textLength="27.4" lengthAdjust="spacingAndGlyphs" fill="#000" stroke="#000" stroke-width="0.10" stroke-linejoin="round" style="font-family:'Liberation Sans',sans-serif;font-weight:bold" >600</text>
<text x="363.1" y="428.2" font-size="14.6" textLength="27.4" lengthAdjust="spacingAndGlyphs" fill="#000" stroke="#000" stroke-width="0.10" stroke-linejoin="round" style="font-family:'Liberation Sans',sans-serif;font-weight:bold" >800</text>
<text x="442.8" y="428.2" font-size="14.6" textLength="36.6" lengthAdjust="spacingAndGlyphs" fill="#000" stroke="#000" stroke-width="0.10" stroke-linejoin="round" style="font-family:'Liberation Sans',sans-serif;font-weight:bold" >1000</text>
<text x="527.2" y="428.2" font-size="14.6" textLength="36.6" lengthAdjust="spacingAndGlyphs" fill="#000" stroke="#000" stroke-width="0.10" stroke-linejoin="round" style="font-family:'Liberation Sans',sans-serif;font-weight:bold" >1200</text>
<text x="611.5" y="428.2" font-size="14.6" textLength="36.6" lengthAdjust="spacingAndGlyphs" fill="#000" stroke="#000" stroke-width="0.10" stroke-linejoin="round" style="font-family:'Liberation Sans',sans-serif;font-weight:bold" >1400</text>
<text x="40.6" y="21.4" font-size="14.6" textLength="17.2" lengthAdjust="spacingAndGlyphs" fill="#000" stroke="#000" stroke-width="0.10" stroke-linejoin="round" style="font-family:'Liberation Sans',sans-serif;font-weight:bold" >10</text>
<text x="58.0" y="15.4" font-size="14.6" textLength="10.4" lengthAdjust="spacingAndGlyphs" fill="#000" stroke="#000" stroke-width="0.10" stroke-linejoin="round" style="font-family:'Liberation Sans',sans-serif;font-weight:bold" >2</text>
<text x="40.6" y="152.4" font-size="14.6" textLength="17.2" lengthAdjust="spacingAndGlyphs" fill="#000" stroke="#000" stroke-width="0.10" stroke-linejoin="round" style="font-family:'Liberation Sans',sans-serif;font-weight:bold" >10</text>
<text x="58.0" y="146.4" font-size="14.6" textLength="10.4" lengthAdjust="spacingAndGlyphs" fill="#000" stroke="#000" stroke-width="0.10" stroke-linejoin="round" style="font-family:'Liberation Sans',sans-serif;font-weight:bold" >0</text>
<text x="28.4" y="283.4" font-size="14.6" textLength="17.2" lengthAdjust="spacingAndGlyphs" fill="#000" stroke="#000" stroke-width="0.10" stroke-linejoin="round" style="font-family:'Liberation Sans',sans-serif;font-weight:bold" >10</text>
<path d="M46.9 273.8 H56.8" fill="none" stroke="#000" stroke-width="1.90"/>
<text x="57.6" y="278.2" font-size="14.6" textLength="10.4" lengthAdjust="spacingAndGlyphs" fill="#000" stroke="#000" stroke-width="0.10" stroke-linejoin="round" style="font-family:'Liberation Sans',sans-serif;font-weight:bold" >2</text>
<text x="28.4" y="414.5" font-size="14.6" textLength="17.2" lengthAdjust="spacingAndGlyphs" fill="#000" stroke="#000" stroke-width="0.10" stroke-linejoin="round" style="font-family:'Liberation Sans',sans-serif;font-weight:bold" >10</text>
<path d="M46.9 404.9 H56.8" fill="none" stroke="#000" stroke-width="1.90"/>
<text x="57.6" y="409.3" font-size="14.6" textLength="10.4" lengthAdjust="spacingAndGlyphs" fill="#000" stroke="#000" stroke-width="0.10" stroke-linejoin="round" style="font-family:'Liberation Sans',sans-serif;font-weight:bold" >4</text>
<text x="136.3" y="62.8" font-size="23.6" textLength="31.2" lengthAdjust="spacingAndGlyphs" fill="#000" stroke="#000" stroke-width="0.40" stroke-linejoin="round" style="font-family:'Liberation Serif',serif;font-style:italic" >pp</text>
<path d="M183.0 56.0 H197 M192.4 52.4 L197.2 56.0 L192.4 59.6" fill="none" stroke="#000" stroke-width="1.4"/>
<text x="213.0" y="62.8" font-size="23.6" fill="#000" stroke="#000" stroke-width="0.70" stroke-linejoin="round" style="font-family:'Liberation Serif',serif;font-style:italic" >T</text>
<text x="231.6" y="62.8" font-size="23.6" fill="#000" stroke="#000" stroke-width="0.70" stroke-linejoin="round" style="font-family:'Liberation Serif',serif;font-style:italic" >T</text>
<text x="261.5" y="61.8" font-size="25.0" textLength="9.0" lengthAdjust="spacingAndGlyphs" fill="#000" stroke="#000" stroke-width="0.55" stroke-linejoin="round" style="font-family:'Liberation Serif',serif" >(</text>
<text x="270.6" y="62.8" font-size="25.0" textLength="13.4" lengthAdjust="spacingAndGlyphs" fill="#000" stroke="#000" stroke-width="0.55" stroke-linejoin="round" style="font-family:'Liberation Serif',serif" >λ</text>
<text x="285.9" y="51.0" font-size="15.6" textLength="9.6" lengthAdjust="spacingAndGlyphs" fill="#000" style="font-family:'Liberation Sans',sans-serif;font-weight:bold" >2</text>
<path d="M298.2 53.1 H312.8 M298.2 57.9 H312.8" fill="none" stroke="#000" stroke-width="1.5"/>
<text x="261.5" y="96.3" font-size="25.0" textLength="9.0" lengthAdjust="spacingAndGlyphs" fill="#000" stroke="#000" stroke-width="0.55" stroke-linejoin="round" style="font-family:'Liberation Serif',serif" >(</text>
<text x="270.6" y="97.3" font-size="25.0" textLength="13.4" lengthAdjust="spacingAndGlyphs" fill="#000" stroke="#000" stroke-width="0.55" stroke-linejoin="round" style="font-family:'Liberation Serif',serif" >λ</text>
<text x="285.9" y="85.5" font-size="15.6" textLength="9.6" lengthAdjust="spacingAndGlyphs" fill="#000" style="font-family:'Liberation Sans',sans-serif;font-weight:bold" >2</text>
<path d="M298.2 87.6 H312.8 M298.2 92.4 H312.8" fill="none" stroke="#000" stroke-width="1.5"/>
<text x="316.5" y="62.8" font-size="25.0" textLength="13.0" lengthAdjust="spacingAndGlyphs" fill="#000" stroke="#000" stroke-width="0.55" stroke-linejoin="round" style="font-family:'Liberation Serif',serif" >1</text>
<text x="330.3" y="61.8" font-size="25.0" textLength="9.0" lengthAdjust="spacingAndGlyphs" fill="#000" stroke="#000" stroke-width="0.55" stroke-linejoin="round" style="font-family:'Liberation Serif',serif" >)</text>
<text x="205.6" y="97.3" font-size="24.0" textLength="11.4" lengthAdjust="spacingAndGlyphs" fill="#000" stroke="#000" stroke-width="0.60" stroke-linejoin="round" style="font-family:'Liberation Serif',serif;font-style:italic" >e</text>
<text x="219.6" y="103.1" font-size="16.0" textLength="10.2" lengthAdjust="spacingAndGlyphs" fill="#000" stroke="#000" stroke-width="0.30" stroke-linejoin="round" style="font-family:'Liberation Serif',serif;font-weight:bold" >k</text>
<text x="232.8" y="97.3" font-size="23.6" fill="#000" stroke="#000" stroke-width="0.70" stroke-linejoin="round" style="font-family:'Liberation Serif',serif;font-style:italic" >T</text>
<path d="M318.9 78.4 V101.8 M353.6 78.4 V101.8" fill="none" stroke="#000" stroke-width="1.4"/>
<text x="321.8" y="97.3" font-size="24.4" textLength="14.5" lengthAdjust="spacingAndGlyphs" fill="#000" stroke="#000" stroke-width="0.30" stroke-linejoin="round" style="font-family:'Liberation Serif',serif;font-style:italic" >y</text>
<text x="340.0" y="102.9" font-size="15.5" textLength="10.0" lengthAdjust="spacingAndGlyphs" fill="#000" stroke="#000" stroke-width="0.30" stroke-linejoin="round" style="font-family:'Liberation Serif',serif;font-weight:bold" >k</text>
<text x="357.8" y="85.3" font-size="15.6" textLength="9.6" lengthAdjust="spacingAndGlyphs" fill="#000" style="font-family:'Liberation Sans',sans-serif;font-weight:bold" >2</text>
<text x="368.7" y="96.8" font-size="25.0" textLength="9.0" lengthAdjust="spacingAndGlyphs" fill="#000" stroke="#000" stroke-width="0.55" stroke-linejoin="round" style="font-family:'Liberation Serif',serif" >)</text>
<text x="591.3" y="62.9" font-size="25.2" textLength="44.8" lengthAdjust="spacingAndGlyphs" fill="#000" stroke="#000" stroke-width="0.55" stroke-linejoin="round" style="font-family:'Liberation Serif',serif" >LHC</text>
<text x="179.4" y="307.1" font-size="23.4" fill="#000" stroke="#000" stroke-width="0.70" stroke-linejoin="round" style="font-family:'Liberation Serif',serif;font-style:italic" >T</text>
<path d="M198.8 289.9 H208.6 M203.7 286.8 V292.9 M198.8 295.3 H208.6" fill="none" stroke="#000" stroke-width="1.60"/>
<text x="212.4" y="307.1" font-size="23.4" fill="#000" stroke="#000" stroke-width="0.70" stroke-linejoin="round" style="font-family:'Liberation Serif',serif;font-style:italic" >T</text>
<text x="230.2" y="295.8" font-size="16.2" textLength="9.2" lengthAdjust="spacingAndGlyphs" fill="#000" stroke="#000" stroke-width="0.50" stroke-linejoin="round" style="font-family:'Liberation Sans',sans-serif" >0</text>
<text x="179.4" y="331.5" font-size="23.4" fill="#000" stroke="#000" stroke-width="0.70" stroke-linejoin="round" style="font-family:'Liberation Serif',serif;font-style:italic" >T</text>
<path d="M199.3 315.9 H209.0 M204.2 311.0 V320.7" fill="none" stroke="#000" stroke-width="1.60"/>
<text x="212.4" y="331.5" font-size="23.4" fill="#000" stroke="#000" stroke-width="0.70" stroke-linejoin="round" style="font-family:'Liberation Serif',serif;font-style:italic" >T</text>
<path d="M233.2 315.6 H242.6" fill="none" stroke="#000" stroke-width="1.60"/>
<text x="179.4" y="365.9" font-size="23.4" fill="#ff0000" stroke="#ff0000" stroke-width="0.70" stroke-linejoin="round" style="font-family:'Liberation Serif',serif;font-style:italic" >T</text>
<path d="M198.8 348.7 H208.6 M203.7 345.6 V351.7 M198.8 354.1 H208.6" fill="none" stroke="#ff0000" stroke-width="1.60"/>
<text x="212.4" y="365.9" font-size="23.4" fill="#ff0000" stroke="#ff0000" stroke-width="0.70" stroke-linejoin="round" style="font-family:'Liberation Serif',serif;font-style:italic" >T</text>
<text x="230.2" y="354.6" font-size="16.2" textLength="9.2" lengthAdjust="spacingAndGlyphs" fill="#ff0000" stroke="#ff0000" stroke-width="0.50" stroke-linejoin="round" style="font-family:'Liberation Sans',sans-serif" >0</text>
<text x="179.4" y="391.8" font-size="23.4" fill="#ff0000" stroke="#ff0000" stroke-width="0.70" stroke-linejoin="round" style="font-family:'Liberation Serif',serif;font-style:italic" >T</text>
<path d="M199.3 376.2 H209.0 M204.2 371.3 V381.0" fill="none" stroke="#ff0000" stroke-width="1.60"/>
<text x="212.4" y="391.8" font-size="23.4" fill="#ff0000" stroke="#ff0000" stroke-width="0.70" stroke-linejoin="round" style="font-family:'Liberation Serif',serif;font-style:italic" >T</text>
<path d="M233.2 375.9 H242.6" fill="none" stroke="#ff0000" stroke-width="1.60"/>
<text x="251.5" y="377.0" font-size="24.5" textLength="8.5" lengthAdjust="spacingAndGlyphs" fill="#ff0000" stroke="#ff0000" stroke-width="0.55" stroke-linejoin="round" style="font-family:'Liberation Serif',serif" >(</text>
<text x="262.0" y="377.5" font-size="24.5" textLength="26.0" lengthAdjust="spacingAndGlyphs" fill="#ff0000" stroke="#ff0000" stroke-width="0.55" stroke-linejoin="round" style="font-family:'Liberation Serif',serif" >10</text>
<text x="301.0" y="377.5" font-size="24.5" textLength="42.0" lengthAdjust="spacingAndGlyphs" fill="#ff0000" stroke="#ff0000" stroke-width="0.55" stroke-linejoin="round" style="font-family:'Liberation Serif',serif" >TeV</text>
<text x="343.8" y="377.0" font-size="24.5" textLength="8.5" lengthAdjust="spacingAndGlyphs" fill="#ff0000" stroke="#ff0000" stroke-width="0.55" stroke-linejoin="round" style="font-family:'Liberation Serif',serif" >)</text>
<g transform="translate(0 0.0) rotate(9 598 301.5)">
<text x="592.2" y="301.3" font-size="27.0" textLength="11.5" lengthAdjust="spacingAndGlyphs" fill="#0000ff" stroke="#0000ff" stroke-width="0.70" stroke-linejoin="round" style="font-family:'Liberation Serif',serif;font-style:italic" >e</text>
<path d="M607.0 282.8 H616.8 M611.9 279.8 V285.7 M607.0 288.0 H616.8" fill="none" stroke="#0000ff" stroke-width="1.70"/>
<text x="604.6" y="306.5" font-size="17.0" textLength="10.8" lengthAdjust="spacingAndGlyphs" fill="#0000ff" stroke="#0000ff" stroke-width="0.30" stroke-linejoin="round" style="font-family:'Liberation Serif',serif;font-weight:bold" >k</text>
<text x="618.0" y="300.6" font-size="24.0" fill="#0000ff" stroke="#0000ff" stroke-width="0.80" stroke-linejoin="round" style="font-family:'Liberation Serif',serif;font-style:italic" >T</text>
<text x="636.4" y="289.5" font-size="17.0" textLength="10.0" lengthAdjust="spacingAndGlyphs" fill="#0000ff" stroke="#0000ff" stroke-width="0.70" stroke-linejoin="round" style="font-family:'Liberation Sans',sans-serif" >0</text>
</g>
<g transform="translate(0 63.0) rotate(9 598 301.5)">
<text x="592.2" y="301.3" font-size="27.0" textLength="11.5" lengthAdjust="spacingAndGlyphs" fill="#0000ff" stroke="#0000ff" stroke-width="0.70" stroke-linejoin="round" style="font-family:'Liberation Serif',serif;font-style:italic" >e</text>
<path d="M607.0 282.8 H616.8 M611.9 279.8 V285.7 M607.0 288.0 H616.8" fill="none" stroke="#0000ff" stroke-width="1.70"/>
<text x="604.6" y="306.5" font-size="17.0" textLength="10.8" lengthAdjust="spacingAndGlyphs" fill="#0000ff" stroke="#0000ff" stroke-width="0.30" stroke-linejoin="round" style="font-family:'Liberation Serif',serif;font-weight:bold" >k</text>
<text x="618.0" y="300.6" font-size="24.0" fill="#0000ff" stroke="#0000ff" stroke-width="0.80" stroke-linejoin="round" style="font-family:'Liberation Serif',serif;font-style:italic" >T</text>
<path d="M637.5 281.9 H647.5 M637.5 285.2 H647.5 M642.5 282.6 V289.6" fill="none" stroke="#0000ff" stroke-width="1.70"/>
</g>
<text x="341.0" y="466.8" font-size="25.2" textLength="18.6" lengthAdjust="spacingAndGlyphs" fill="#000" stroke="#000" stroke-width="0.90" stroke-linejoin="round" style="font-family:'Liberation Serif',serif;font-style:italic" >M</text>
<text x="364.6" y="472.4" font-size="17.0" textLength="11.0" lengthAdjust="spacingAndGlyphs" fill="#000" stroke="#000" stroke-width="0.80" stroke-linejoin="round" style="font-family:'Liberation Serif',serif;font-style:italic" >T</text>
<text x="392.0" y="466.8" font-size="25.2" textLength="61.5" lengthAdjust="spacingAndGlyphs" fill="#000" stroke="#000" stroke-width="0.55" stroke-linejoin="round" style="font-family:'Liberation Serif',serif" >(GeV)</text>
<g transform="translate(27.5 264) rotate(-90)">
<text x="0.2" y="0.0" font-size="23.5" textLength="12.8" lengthAdjust="spacingAndGlyphs" fill="#000" stroke="#000" stroke-width="0.60" stroke-linejoin="round" style="font-family:'Liberation Serif',serif" >σ</text>
<path d="M15.9 4.4 L28.7 -19.0" fill="none" stroke="#000" stroke-width="1.6"/>
<text x="30.6" y="0.0" font-size="25.0" textLength="13.8" lengthAdjust="spacingAndGlyphs" fill="#000" stroke="#000" stroke-width="0.60" stroke-linejoin="round" style="font-family:'Liberation Serif',serif" >λ</text>
<text x="45.4" y="-11.4" font-size="16.0" textLength="9.6" lengthAdjust="spacingAndGlyphs" fill="#000" style="font-family:'Liberation Sans',sans-serif;font-weight:bold" >2</text>
<text x="68.6" y="-0.6" font-size="25.5" textLength="8.5" lengthAdjust="spacingAndGlyphs" fill="#000" stroke="#000" stroke-width="0.60" stroke-linejoin="round" style="font-family:'Liberation Serif',serif" >(</text>
<text x="78.2" y="0.0" font-size="25.3" textLength="28.5" lengthAdjust="spacingAndGlyphs" fill="#000" stroke="#000" stroke-width="0.70" stroke-linejoin="round" style="font-family:'Liberation Serif',serif" >pb</text>
<text x="108.0" y="-0.6" font-size="25.5" textLength="8.5" lengthAdjust="spacingAndGlyphs" fill="#000" stroke="#000" stroke-width="0.60" stroke-linejoin="round" style="font-family:'Liberation Serif',serif" >)</text>
</g>
</svg>
</body></html>
